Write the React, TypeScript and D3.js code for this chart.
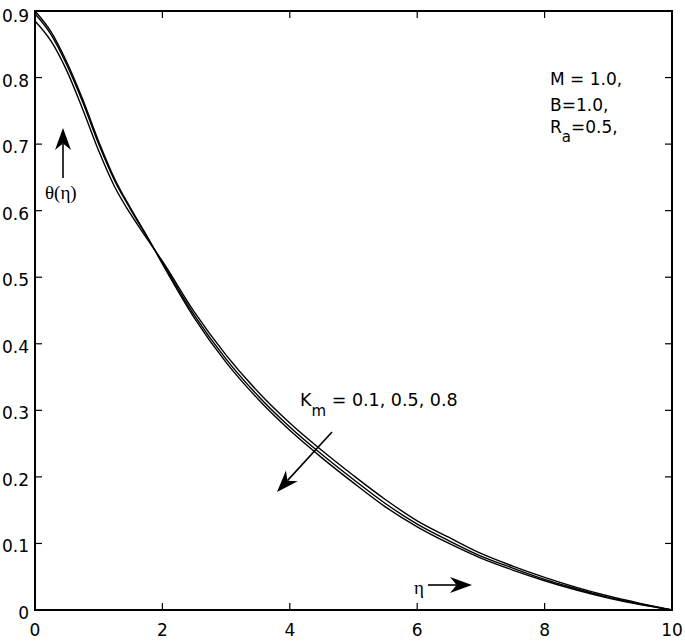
import React from 'react'
import * as d3 from 'd3'

// eta grid and the three temperature profiles
const eta = [0, 0.25, 0.5, 0.75, 1, 1.25, 1.5, 1.75, 2, 2.5, 3, 3.5, 4, 4.5, 5, 5.5, 6, 6.5, 7, 7.5, 8, 8.5, 9, 9.5, 10]
const thetaKm01 = [0.885, 0.855, 0.81, 0.752, 0.69, 0.636, 0.595, 0.559, 0.524, 0.448, 0.383, 0.328, 0.281, 0.24, 0.202, 0.166, 0.134, 0.109, 0.085, 0.066, 0.049, 0.034, 0.021, 0.01, 0]
const thetaKm05 = [0.896, 0.865, 0.819, 0.763, 0.7, 0.645, 0.602, 0.562, 0.522, 0.443, 0.377, 0.322, 0.275, 0.234, 0.196, 0.16, 0.129, 0.104, 0.081, 0.063, 0.046, 0.032, 0.019, 0.009, 0]
const thetaKm08 = [0.9, 0.869, 0.823, 0.767, 0.704, 0.648, 0.604, 0.563, 0.52, 0.439, 0.372, 0.317, 0.27, 0.229, 0.191, 0.155, 0.125, 0.1, 0.078, 0.06, 0.044, 0.03, 0.018, 0.008, 0]

const xTicks = [0, 2, 4, 6, 8, 10]
const yTicks = [0, 0.1, 0.2, 0.3, 0.4, 0.5, 0.6, 0.7, 0.8, 0.9]

const sans = '"DejaVu Sans", Arial, sans-serif'
const serif = '"Liberation Serif", "Times New Roman", serif'

export default function App() {
  var width = 685
  var height = 644
  var left = 35
  var right = 672
  var top = 11
  var bottom = 610

  var x = d3.scaleLinear().domain([0, 10]).range([left, right])
  var y = d3.scaleLinear().domain([0, 0.9]).range([bottom, top])

  var line = d3.line<number>()
    .x((d, i) => x(eta[i]))
    .y(d => y(d))
    .curve(d3.curveMonotoneX)

  var series = [thetaKm01, thetaKm05, thetaKm08]
  var tickLen = 7

  // arrow helper: line from (x1,y1) to tip (x2,y2) with filled head
  function arrow(x1: number, y1: number, x2: number, y2: number, key: string) {
    var ang = Math.atan2(y2 - y1, x2 - x1)
    var len = 22
    var half = 8
    var bx = x2 - len * Math.cos(ang)
    var by = y2 - len * Math.sin(ang)
    var nx = x2 - len * 0.7 * Math.cos(ang)
    var ny = y2 - len * 0.7 * Math.sin(ang)
    var px = -Math.sin(ang) * half
    var py = Math.cos(ang) * half
    var head = `M${x2},${y2} L${bx + px},${by + py} L${nx},${ny} L${bx - px},${by - py} Z`
    return (
      <g key={key}>
        <line x1={x1} y1={y1} x2={nx} y2={ny} stroke="#000" strokeWidth={1.6} />
        <path d={head} fill="#000" />
      </g>
    )
  }

  return (
    <svg width={width} height={height} style={{ position: 'absolute', left: 0, top: 0, background: '#fff' }}>
      {/* Curves */}
      {series.map((s, i) => (
        <path key={i} d={line(s) || ''} fill="none" stroke="#000" strokeWidth={1.4} />
      ))}

      {/* Frame */}
      <rect x={left} y={top} width={right - left} height={bottom - top} fill="none" stroke="#000" strokeWidth={2} />

      {/* X ticks on top and bottom */}
      {xTicks.map(t => (
        <g key={'x' + t}>
          <line x1={x(t)} x2={x(t)} y1={bottom} y2={bottom - tickLen} stroke="#000" strokeWidth={1.2} />
          <line x1={x(t)} x2={x(t)} y1={top} y2={top + tickLen} stroke="#000" strokeWidth={1.2} />
          <text x={x(t)} y={636} textAnchor="middle" fontFamily={sans} fontSize={17}>{t}</text>
        </g>
      ))}

      {/* Y ticks on left and right */}
      {yTicks.map(t => (
        <g key={'y' + t}>
          <line x1={left} x2={left + tickLen} y1={y(t)} y2={y(t)} stroke="#000" strokeWidth={1.2} />
          <line x1={right} x2={right - tickLen} y1={y(t)} y2={y(t)} stroke="#000" strokeWidth={1.2} />
          <text x={29} y={Math.max(y(t) + 9, 22)} textAnchor="end" fontFamily={sans} fontSize={17}>{t === 0 ? '0' : t.toFixed(1)}</text>
        </g>
      ))}

      {/* Parameters */}
      <text x={550} y={85} fontFamily={sans} fontSize={17}>M = 1.0,</text>
      <text x={550} y={111} fontFamily={sans} fontSize={17}>B=1.0,</text>
      <text x={550} y={133} fontFamily={sans} fontSize={17}>
        R<tspan dy={9} fontSize={15}>a</tspan><tspan dy={-9}>=0.5,</tspan>
      </text>

      {/* theta label and arrow */}
      <text x={45} y={199} fontFamily={serif} fontSize={19}>θ(η)</text>
      {arrow(63, 178, 63, 128, 'up')}

      {/* eta label and arrow */}
      <text x={414} y={594} fontFamily={serif} fontSize={19}>η</text>
      {arrow(428, 585, 472, 585, 'right')}

      {/* Km label and arrow */}
      <text x={300} y={406} fontFamily={sans} fontSize={17.5}>
        K<tspan dy={10} fontSize={15}>m</tspan><tspan dy={-10}> = 0.1, 0.5, 0.8</tspan>
      </text>
      {arrow(332, 432, 277, 492, 'km')}
    </svg>
  )
}
